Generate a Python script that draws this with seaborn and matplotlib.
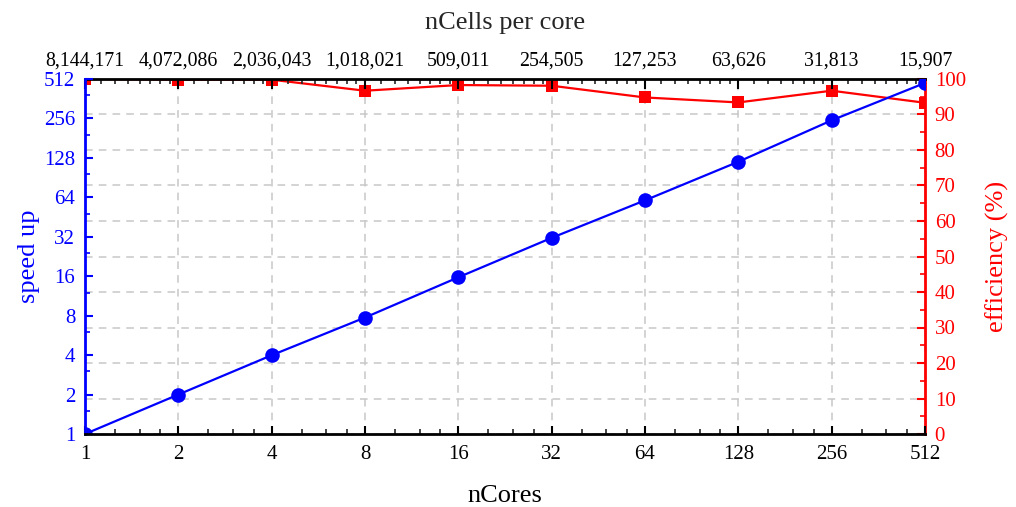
import numpy as np
import pandas as pd
import matplotlib
matplotlib.use("Agg")
import matplotlib.pyplot as plt
from matplotlib.ticker import FixedLocator, FixedFormatter, NullFormatter
import seaborn as sns

# Strong-scaling results
n_cores = [1, 2, 4, 8, 16, 32, 64, 128, 256, 512]
speed_up = [1.0, 2.0, 3.99, 7.74, 15.7, 31.4, 60.7, 119.6, 247.6, 477.7]
efficiency = [100.0, 99.8, 99.8, 96.7, 98.3, 98.1, 94.8, 93.4, 96.7, 93.3]
cells_per_core_labels = ["8,144,171", "4,072,086", "2,036,043", "1,018,021", "509,011",
                         "254,505", "127,253", "63,626", "31,813", "15,907"]
speed_ticks = [1, 2, 4, 8, 16, 32, 64, 128, 256, 512]
eff_ticks = list(range(0, 101, 10))

df = pd.DataFrame({"nCores": n_cores, "speedup": speed_up, "efficiency": efficiency})

sns.set_theme(style="white")
plt.rcParams["font.family"] = ["Liberation Serif", "DejaVu Serif"]

fig = plt.figure(figsize=(10.16, 5.07), dpi=100)
ax = fig.add_axes([85 / 1016, 73 / 507, 840 / 1016, 355 / 507])
ax2 = ax.twinx()
ax.set_zorder(ax2.get_zorder() + 1)
ax.patch.set_visible(False)

BLUE = "#0000ff"
RED = "#ff0000"
GRID = "#c8c8c8"
fs_tick = 15
fs_top = 14.3
fs_label = 19

# efficiency on the right axis
sns.lineplot(data=df, x="nCores", y="efficiency", ax=ax2, color=RED, marker="s",
             markersize=9, markeredgewidth=0, linewidth=1.6)
# speed up on the left axis
sns.lineplot(data=df, x="nCores", y="speedup", ax=ax, color=BLUE, marker="o",
             markersize=10.5, markeredgewidth=0, linewidth=1.6)

for a in (ax, ax2):
    a.set_xscale("log", base=2)
    a.set_xlim(1, 512)

ax.set_yscale("log", base=2)
ax.set_ylim(1, 512)
ax2.set_ylim(0, 100)

# bottom axis ticks (shared with the twin axes)
bottom_minor = [n * (1 + k / 4) for n in n_cores[:-1] for k in (1, 2, 3)]
ax.xaxis.set_major_locator(FixedLocator(n_cores))
ax.xaxis.set_major_formatter(FixedFormatter([str(n) for n in n_cores]))
ax.xaxis.set_minor_locator(FixedLocator(bottom_minor))
ax.xaxis.set_minor_formatter(NullFormatter())

# left axis ticks
ax.yaxis.set_major_locator(FixedLocator(speed_ticks))
ax.yaxis.set_major_formatter(FixedFormatter([str(t) for t in speed_ticks]))
ax.yaxis.set_minor_locator(FixedLocator([t * 1.5 for t in speed_ticks[:-1]]))
ax.yaxis.set_minor_formatter(NullFormatter())

# right axis ticks
ax2.yaxis.set_major_locator(FixedLocator(eff_ticks))
ax2.yaxis.set_minor_locator(FixedLocator(list(range(5, 100, 10))))

# the lower axes carries the grid so every line sits above it
ax2.xaxis.set_visible(True)
ax2.set_xlabel("")
ax2.tick_params(axis="x", which="both", bottom=False, top=False,
                labelbottom=False, labeltop=False)
ax.grid(False)
ax2.grid(False)
ax2.xaxis.grid(True, which="major", color=GRID, linestyle=(0, (5, 4)), linewidth=1.1)
ax2.yaxis.grid(True, which="major", color=GRID, linestyle=(0, (5, 4)), linewidth=1.1)

# top axis: cells per core
top = ax.secondary_xaxis("top")
top.xaxis.set_major_locator(FixedLocator(n_cores))
top.xaxis.set_major_formatter(FixedFormatter(cells_per_core_labels))
top_minor = [n * (1 + k / 8) for n in n_cores[:-1] for k in range(1, 8)]
top.xaxis.set_minor_locator(FixedLocator(top_minor))
top.xaxis.set_minor_formatter(NullFormatter())
top.tick_params(axis="x", which="major", direction="in", length=7, width=1.5,
                labelsize=fs_top, colors="black", pad=6)
top.tick_params(axis="x", which="minor", direction="in", length=3.5, width=1.2)
top.spines["top"].set_linewidth(2)
top.spines["top"].set_color("black")
top.set_xlabel("nCells per core", fontsize=fs_label, labelpad=16)

# tick styling
ax.tick_params(axis="x", which="major", direction="in", length=6, width=1.5,
               labelsize=fs_tick, colors="black", pad=8, bottom=True, top=False)
ax.tick_params(axis="x", which="minor", direction="in", length=3.5, width=1.2,
               bottom=True, top=False)
ax.tick_params(axis="y", which="major", direction="in", length=6, width=1.5,
               labelsize=fs_tick, colors=BLUE, pad=7, left=True, right=False)
ax.tick_params(axis="y", which="minor", direction="in", length=3.5, width=1.2,
               colors=BLUE, left=True, right=False)
ax2.tick_params(axis="y", which="major", direction="in", length=6, width=1.5,
                labelsize=fs_tick, colors=RED, pad=7, right=True, left=False)
ax2.tick_params(axis="y", which="minor", direction="in", length=3.5, width=1.2,
                colors=RED, right=True, left=False)

# spines
for s in ax.spines.values():
    s.set_linewidth(2)
ax.spines["left"].set_color(BLUE)
ax.spines["bottom"].set_color("black")
ax.spines["top"].set_visible(False)
ax.spines["right"].set_visible(False)
for name, s in ax2.spines.items():
    s.set_visible(name == "right")
ax2.spines["right"].set_color(RED)
ax2.spines["right"].set_linewidth(2)

ax.set_xlabel("nCores", fontsize=fs_label, color="black", labelpad=15)
ax.set_ylabel("speed up", fontsize=fs_label, color=BLUE, labelpad=3)
ax2.set_ylabel("efficiency (%)", fontsize=fs_label, color=RED, labelpad=14)

fig.savefig("out.png", dpi=100)
